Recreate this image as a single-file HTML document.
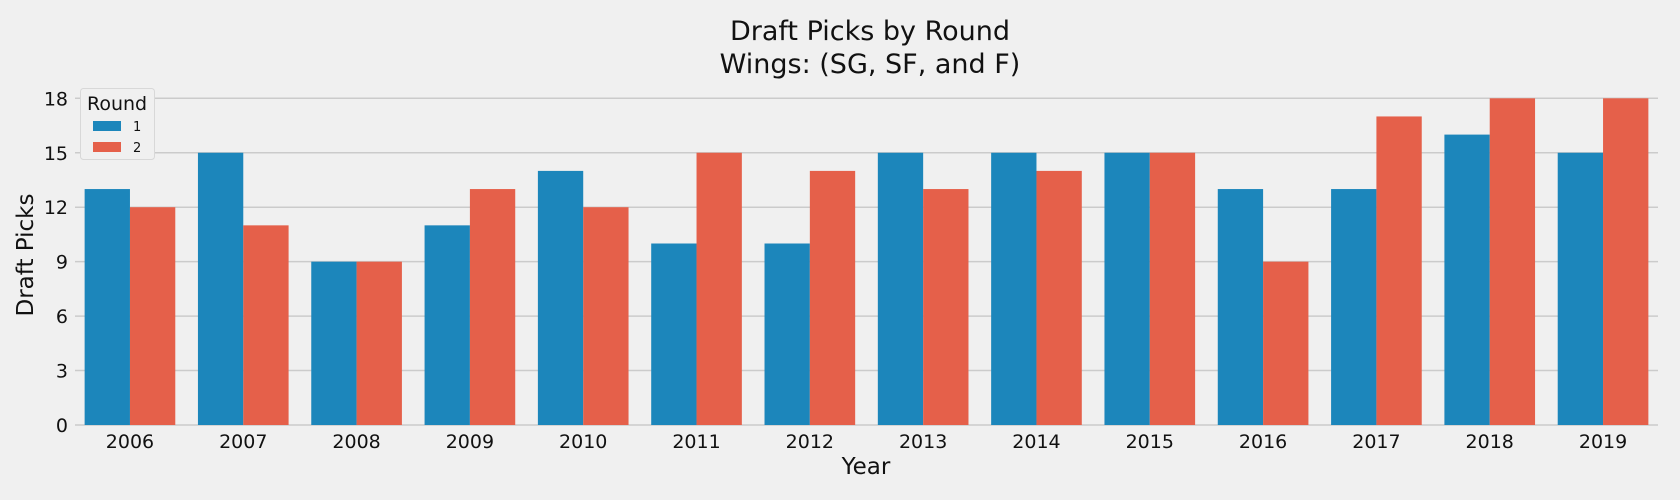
<!DOCTYPE html>
<html><head><meta charset="utf-8"><style>
body{margin:0;background:#f0f0f0;}
svg{display:block;font-family:"DejaVu Sans","Liberation Sans",sans-serif;}
</style></head><body>
<svg id="c" width="1680" height="500">
<rect width="1680" height="500" fill="#f0f0f0"/>
<text x="870" y="40" font-size="27" text-anchor="middle" fill="#111">Draft Picks by Round</text>
<text x="870" y="73" font-size="27" text-anchor="middle" fill="#111">Wings: (SG, SF, and F)</text>
<text transform="translate(33,255) rotate(-90)" font-size="23" text-anchor="middle" fill="#111">Draft Picks</text>
<text x="866" y="474" font-size="23" text-anchor="middle" fill="#111">Year</text>
<g id="grid"></g><g id="bars"></g><g id="xt"></g>
<g>
<rect x="80.5" y="88.5" width="74" height="71" rx="3" fill="#f0f0f0" stroke="#d8d8d8"/>
<text x="87" y="110" font-size="19" fill="#111">Round</text>
<rect x="93" y="121" width="28" height="10" fill="#1c86bb"/>
<text x="133" y="131" font-size="13" fill="#111">1</text>
<rect x="93" y="142" width="28" height="10" fill="#e5604a"/>
<text x="133" y="152" font-size="13" fill="#111">2</text>
</g>
</svg>
<script>
const years=["2006","2007","2008","2009","2010","2011","2012","2013","2014","2015","2016","2017","2018","2019"];
const round1=[13,15,9,11,14,10,10,15,15,15,13,13,16,15];
const round2=[12,11,9,13,12,15,14,13,14,15,9,17,18,18];
const yTicks=[0,3,6,9,12,15,18];
const NS="http://www.w3.org/2000/svg";
const x0=73.3,x1=1659.7,yb=425,yt=98.3;
const step=(x1-x0)/years.length;
const xc=i=>x0+step*(i+0.5);
const y=v=>yb-(v/18)*(yb-yt);
function mk(t,a,p){const e=document.createElementNS(NS,t);for(const k in a)e.setAttribute(k,a[k]);p.appendChild(e);return e;}
const g=document.getElementById('grid'),b=document.getElementById('bars'),xt=document.getElementById('xt');
yTicks.forEach(v=>{
 const l=mk('line',{x1:75,x2:1658,y1:y(v),y2:y(v),stroke:'#cbcbcb','stroke-width':1.5},g);
 
 
 const t=mk('text',{x:68,y:y(v)+7,'font-size':19,'text-anchor':'end',fill:'#111'},g);
 t.textContent=v;
 
 
});
const bw=step*0.4;
years.forEach((yr,i)=>{
 const r1=mk('rect',{x:xc(i)-bw,y:y(round1[i]),width:bw,height:yb-y(round1[i]),fill:'#1c86bb'},b);
 
 
 const r2=mk('rect',{x:xc(i),y:y(round2[i]),width:bw,height:yb-y(round2[i]),fill:'#e5604a'},b);
 
 
 const t=mk('text',{x:xc(i),y:448,'font-size':19,'text-anchor':'middle',fill:'#111'},xt);
 t.textContent=yr;
 
 
});
</script>
</body></html>
